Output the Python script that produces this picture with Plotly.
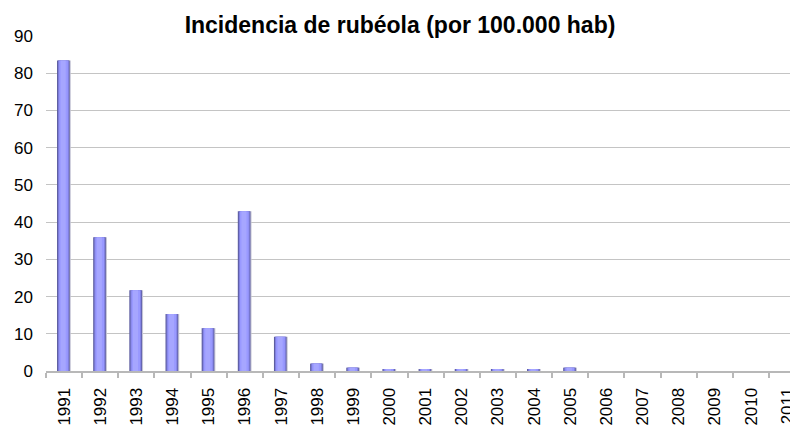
import plotly.graph_objects as go

# incidencia de rubéola por 100.000 habitantes
years = [str(y) for y in range(1991, 2012)]
incidence = [83.4, 35.9, 21.7, 15.3, 11.5, 42.9, 9.2, 2.0, 0.9, 0.45,
             0.3, 0.3, 0.3, 0.3, 0.9, 0, 0, 0, 0, 0, 0]
y_ticks = [0, 10, 20, 30, 40, 50, 60, 70, 80, 90]

FONT = "Arial, Liberation Sans, sans-serif"

# category positions on a linear axis so the boundary ticks can be drawn as minor ticks
pos = list(range(len(years)))

fig = go.Figure()

# fake the excel-ish cylinder shading by stacking narrower bars on top of each other
layers = [
    # (offset, width, colour)
    (-0.165, 0.35, "#c4c4d4"),   # soft shadow on the right
    (-0.195, 0.35, "#5c5ca0"),   # dark left edge
    (-0.165, 0.30, "#8080e0"),
    (-0.135, 0.24, "#9999ff"),
    (-0.095, 0.14, "#a6a6ff"),
]
for off, w, col in layers:
    fig.add_trace(
        go.Bar(
            x=pos,
            y=incidence,
            offset=off,
            width=w,
            marker={"color": col, "line": {"width": 0}},
            hoverinfo="skip",
            showlegend=False,
        )
    )

# the page body has an 8px margin, so the figure is 8px smaller than the window
fig.update_layout(
    width=790,
    height=417,
    margin={"l": 38, "r": 0, "t": 28, "b": 54},
    barmode="overlay",
    paper_bgcolor="white",
    plot_bgcolor="white",
    font=dict(family=FONT, size=16, color="black"),
    title=dict(
        text="<b>Incidencia de rubéola (por 100.000 hab)</b>",
        x=392 / 790,
        xanchor="center",
        y=1 - 17 / 417,
        yanchor="middle",
        font=dict(family=FONT, size=23, color="black"),
    ),
    showlegend=False,
)

fig.update_xaxes(
    range=[-0.5, 20.3],
    automargin=False,
    tickvals=pos,
    ticktext=years,
    tickangle=-90,
    ticks="",
    minor=dict(ticks="outside", tick0=-0.5, dtick=1, ticklen=5,
               tickcolor="#b8b8b8", tickwidth=2, showgrid=False),
    showline=True,
    linecolor="#b8b8b8",
    linewidth=2,
    showgrid=False,
    zeroline=False,
    tickfont=dict(family=FONT, size=17),
    ticklabelstandoff=8,
    ticklabeloverflow="allow",
)

fig.update_yaxes(
    range=[0, 90],
    automargin=False,
    tickvals=y_ticks,
    ticks="",
    showline=False,
    showgrid=True,
    gridcolor="#c4c4c4",
    gridwidth=1,
    zeroline=False,
    tickfont=dict(family=FONT, size=17),
    ticklabelstandoff=12,
)

fig.write_html("out.html")
